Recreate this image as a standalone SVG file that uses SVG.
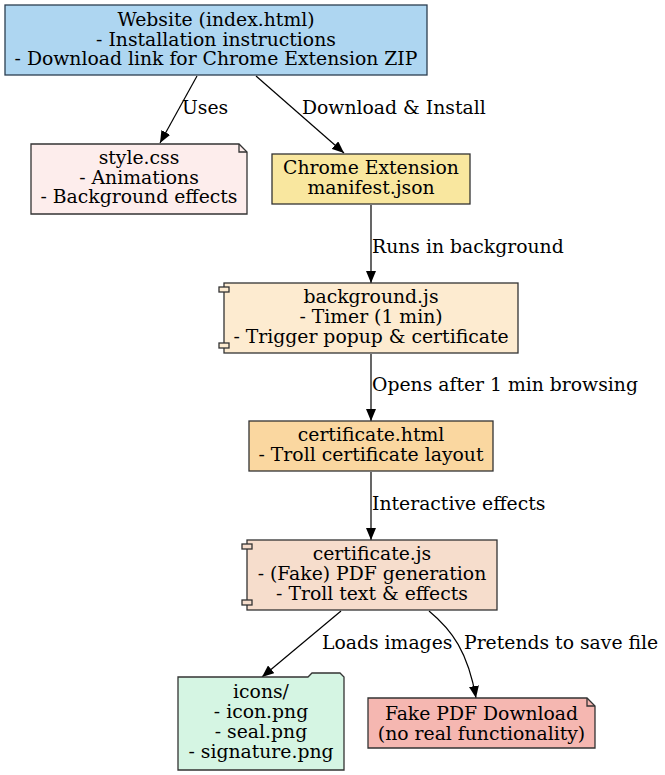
<svg xmlns="http://www.w3.org/2000/svg" width="665" height="775" viewBox="0 0 665 775">
<defs>
<style>
text{font-family:"DejaVu Serif","Liberation Serif",serif;font-size:18.8px;fill:#000;}
.n{text-anchor:middle;}
.box{stroke:#333;stroke-width:1.3;}
.edge{fill:none;stroke:#000;stroke-width:1.2;}
</style>
<marker id="arr" viewBox="0 0 12 10" refX="12" refY="5" markerWidth="12" markerHeight="10" markerUnits="userSpaceOnUse" orient="auto">
<path d="M0,0 L12,5 L0,10 Z" fill="#000"/>
</marker>
</defs>
<rect width="665" height="775" fill="#fff"/>
<g id="connectors">
<path class="edge" d="M197,76 L160,143" marker-end="url(#arr)"/>
<text x="182" y="114">Uses</text>
<path class="edge" d="M256,76 L344,153" marker-end="url(#arr)"/>
<text x="302" y="114">Download &amp; Install</text>
<path class="edge" d="M371,205 L371,283" marker-end="url(#arr)"/>
<text x="372" y="253">Runs in background</text>
<path class="edge" d="M371,354 L371,421" marker-end="url(#arr)"/>
<text x="372" y="391">Opens after 1 min browsing</text>
<path class="edge" d="M371,472 L371,540" marker-end="url(#arr)"/>
<text x="372" y="510">Interactive effects</text>
<path class="edge" d="M341,611 L262,677" marker-end="url(#arr)"/>
<text x="322" y="649">Loads images</text>
<path class="edge" d="M429,611 C452,630 468,652 476,698" marker-end="url(#arr)"/>
<text x="464" y="649">Pretends to save file</text>
</g>
<g id="website">
<rect x="5" y="5" width="422" height="70" fill="#aed6f1" stroke="#2c3e50" stroke-width="1.3"/>
<text class="n" x="216" y="26">Website (index.html)</text>
<text class="n" x="216" y="45.5">- Installation instructions</text>
<text class="n" x="216" y="65">- Download link for Chrome Extension ZIP</text>
</g>
<g id="style_css">
<path class="box" d="M31,144 L239,144 L247,152 L247,214 L31,214 Z" fill="#fdedec"/>
<path class="box" d="M239,144 L239,152 L247,152" fill="none"/>
<text class="n" x="139" y="164">style.css</text>
<text class="n" x="139" y="183.5">- Animations</text>
<text class="n" x="139" y="203">- Background effects</text>
</g>
<g id="chrome_extension">
<rect class="box" x="272" y="154" width="198" height="50" fill="#f9e79f"/>
<text class="n" x="371" y="174">Chrome Extension</text>
<text class="n" x="371" y="194">manifest.json</text>
</g>
<g id="background_js">
<rect class="box" x="224" y="283" width="294" height="70" fill="#fdebd0"/>
<rect class="box" x="219" y="287" width="10" height="5" fill="#fdebd0"/>
<rect class="box" x="219" y="343" width="10" height="5" fill="#fdebd0"/>
<text class="n" x="371" y="303">background.js</text>
<text class="n" x="371" y="323">- Timer (1 min)</text>
<text class="n" x="371" y="343">- Trigger popup &amp; certificate</text>
</g>
<g id="certificate_html">
<rect class="box" x="249" y="421" width="244" height="50" fill="#fad7a0"/>
<text class="n" x="371" y="441">certificate.html</text>
<text class="n" x="371" y="461">- Troll certificate layout</text>
</g>
<g id="certificate_js">
<rect class="box" x="247" y="540" width="250" height="70" fill="#f6ddcc"/>
<rect class="box" x="242" y="544" width="10" height="5" fill="#f6ddcc"/>
<rect class="box" x="242" y="600" width="10" height="5" fill="#f6ddcc"/>
<text class="n" x="372" y="560">certificate.js</text>
<text class="n" x="372" y="580">- (Fake) PDF generation</text>
<text class="n" x="372" y="600">- Troll text &amp; effects</text>
</g>
<g id="icons">
<path class="box" d="M178,677 L308,677 L312,673 L340,673 L344,677 L344,770 L178,770 Z" fill="#d5f5e3"/>
<text class="n" x="261" y="698">icons/</text>
<text class="n" x="261" y="718">- icon.png</text>
<text class="n" x="261" y="738">- seal.png</text>
<text class="n" x="261" y="758">- signature.png</text>
</g>
<g id="fake_pdf">
<path class="box" d="M368,698 L587,698 L595,706 L595,748 L368,748 Z" fill="#f5b7b1"/>
<path class="box" d="M587,698 L587,706 L595,706" fill="none"/>
<text class="n" x="481.5" y="720">Fake PDF Download</text>
<text class="n" x="481.5" y="740">(no real functionality)</text>
</g>
</svg>
